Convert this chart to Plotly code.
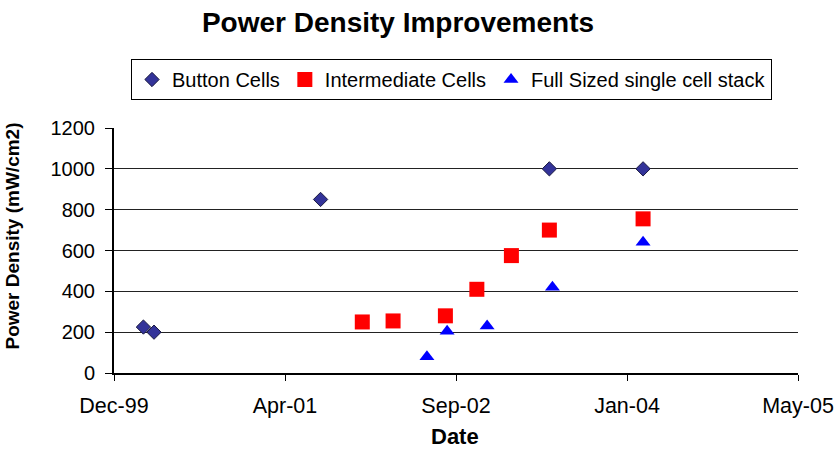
import plotly.graph_objects as go

# Power density results by cell type
button_dates = ["2000-03-01", "2000-04-01", "2001-08-01", "2003-06-01", "2004-03-01"]
button_values = [225, 200, 850, 1000, 1000]

inter_dates = ["2001-12-01", "2002-03-01", "2002-08-01", "2002-11-01",
               "2003-02-10", "2003-06-01", "2004-03-01"]
inter_values = [250, 255, 280, 410, 575, 700, 755]

full_dates = ["2002-06-08", "2002-08-06", "2002-12-01", "2003-06-10", "2004-03-01"]
full_values = [80, 205, 230, 420, 640]

# Date axis: ticks every 500 days
tick_dates = ["1999-12-06", "2001-04-19", "2002-09-01", "2004-01-14", "2005-05-28"]
tick_labels = ["Dec-99", "Apr-01", "Sep-02", "Jan-04", "May-05"]
y_ticks = [0, 200, 400, 600, 800, 1000, 1200]

FONT = "Liberation Sans, Arial, sans-serif"

# plot area in pixels: x 114..798, y 128..373
L, R, T, B = 114, 798, 128, 373
W, H = 834, 450


def px_x(x):
    return (x - L) / (R - L)


def px_y(y):
    return (B - y) / (B - T)


fig = go.Figure()
fig.add_trace(go.Scatter(
    x=button_dates, y=button_values, mode="markers", name="Button Cells",
    marker=dict(symbol="diamond", size=11, color="#333399",
                line=dict(color="#1a1a40", width=1)),
))
fig.add_trace(go.Scatter(
    x=inter_dates, y=inter_values, mode="markers", name="Intermediate Cells",
    marker=dict(symbol="square", size=15, color="#ff0000", line=dict(width=0)),
))
fig.add_trace(go.Scatter(
    x=full_dates, y=full_values, mode="markers", name="Full Sized single cell stack",
    marker=dict(symbol="triangle-up", size=13, color="#0000ff", line=dict(width=0)),
))

fig.update_layout(
    width=W, height=H,
    margin=dict(l=L, r=W - R, t=T, b=H - B, autoexpand=False),
    paper_bgcolor="white", plot_bgcolor="white",
    font=dict(family=FONT, size=20, color="black"),
    title=dict(text="<b>Power Density Improvements</b>", x=398 / W, xanchor="center",
               y=1 - 22 / H, yanchor="middle", font=dict(size=28, family=FONT)),
    showlegend=True,
    legend=dict(orientation="h", x=px_x(131), y=px_y(59), xanchor="left", yanchor="top",
                bordercolor="black", borderwidth=1, bgcolor="white",
                font=dict(size=20, family=FONT), itemwidth=30,
                tracegroupgap=0),
    annotations=[
        dict(text="<b>Power Density (mW/cm2)</b>", textangle=-90,
             x=px_x(12), y=px_y(236.5), xref="paper", yref="paper",
             xanchor="center", yanchor="middle", showarrow=False,
             font=dict(size=19, family=FONT)),
        dict(text="<b>Date</b>",
             x=px_x(455), y=px_y(436.5), xref="paper", yref="paper",
             xanchor="center", yanchor="middle", showarrow=False,
             font=dict(size=22, family=FONT)),
    ],
)

fig.update_xaxes(
    type="date", range=[tick_dates[0], tick_dates[-1]],
    tickmode="array", tickvals=tick_dates, ticktext=tick_labels,
    ticks="outside", ticklen=6, tickcolor="black", tickwidth=1,
    showline=True, linecolor="black", linewidth=2, showgrid=False, zeroline=False,
    tickfont=dict(size=21.5), ticklabelstandoff=6, automargin=False,
)
fig.update_yaxes(
    range=[0, 1200], tickmode="array", tickvals=y_ticks,
    ticks="outside", ticklen=7, tickcolor="black", tickwidth=1,
    showline=True, linecolor="black", linewidth=2,
    showgrid=True, gridcolor="#222222", gridwidth=1, zeroline=False,
    tickfont=dict(size=20), ticklabelstandoff=6, automargin=False,
)

fig.write_html("out.html")
